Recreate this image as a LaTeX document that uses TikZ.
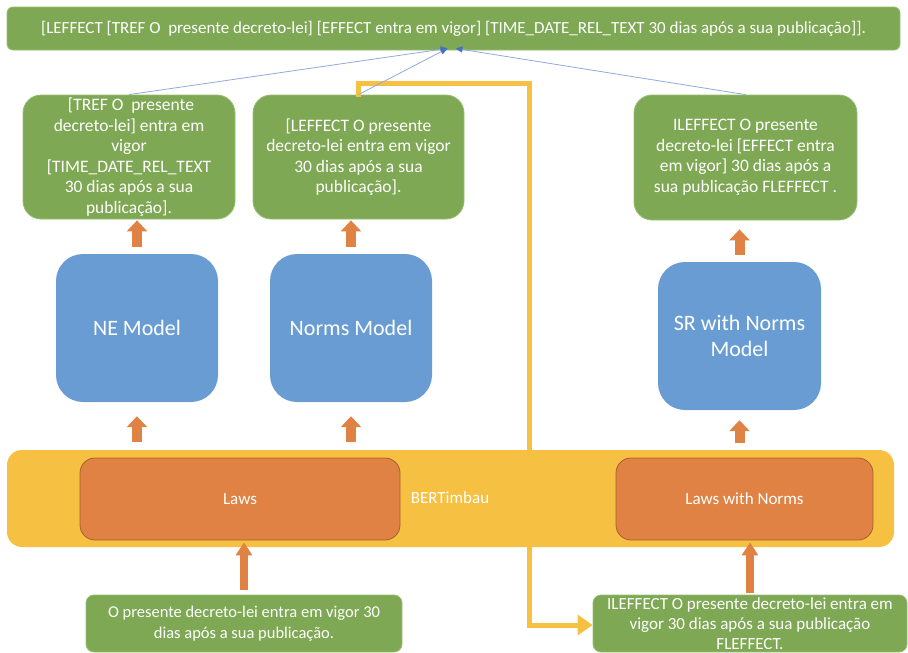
\documentclass[tikz,border=0pt]{standalone}
\usepackage{fontspec}
\setmainfont{Carlito}
\usetikzlibrary{arrows.meta}
\definecolor{grn}{RGB}{126,168,84}
\definecolor{grnb}{RGB}{150,190,115}
\definecolor{blu}{RGB}{104,156,210}
\definecolor{org}{RGB}{223,130,68}
\definecolor{orgb}{RGB}{170,95,45}
\definecolor{yel}{RGB}{246,193,66}
\definecolor{lblu}{RGB}{143,170,220}
\definecolor{dblu}{RGB}{68,114,196}
\tikzset{
  gbox/.style={draw=grnb, line width=0.8pt, fill=grn, text=white, rounded corners=18pt, align=center, inner sep=0pt, font=\fontsize{17.5}{20.5}\selectfont},
  bbox/.style={fill=blu, text=white, rounded corners=27pt, align=center, inner sep=0pt, font=\fontsize{22}{26}\selectfont},
  obox/.style={draw=orgb, line width=0.8pt, fill=org, text=white, rounded corners=15pt, align=center, inner sep=0pt, font=\fontsize{17}{20}\selectfont},
  oarrow/.style={draw=org, line width=10pt, line cap=butt, -{Triangle[width=20pt,length=11pt]}},
  oarrowb/.style={draw=org, line width=8pt, line cap=butt, -{Triangle[width=16pt,length=13pt]}},
  yline/.style={draw=yel, line width=5pt, line cap=butt, line join=miter},
  bline/.style={draw=lblu, line width=0.8pt, -{Triangle[width=6pt,length=7pt,fill=dblu,color=dblu]}},
}
\begin{document}
\begin{tikzpicture}[x=1pt,y=-1pt]
\useasboundingbox (0,0) rectangle (908,653);
% top result
\node[gbox, rounded corners=6pt, minimum width=893pt, minimum height=43pt, font=\fontsize{17}{20}\selectfont] (top) at (453.5,28.5)
  {[LEFFECT [TREF O\ \ presente decreto-lei] [EFFECT entra em vigor] [TIME\_DATE\_REL\_TEXT 30 dias após a sua publicação]].};
% second row outputs
\node[gbox, minimum width=212pt, minimum height=124pt] (g1) at (129,157)
  {\ [TREF O\ \ presente\\decreto-lei] entra em\\vigor\\{}[TIME\_DATE\_REL\_TEXT\\30 dias após a sua\\publicação].};
\node[gbox, minimum width=211pt, minimum height=124pt] (g2) at (358.5,157)
  {[LEFFECT O presente\\decreto-lei entra em vigor\\30 dias após a sua\\publicação].};
\node[gbox, minimum width=223pt, minimum height=125pt] (g3) at (745.5,157.5)
  {ILEFFECT O presente\\decreto-lei [EFFECT entra\\em vigor] 30 dias após a\\sua publicação FLEFFECT .};
% models
\node[bbox, minimum width=162pt, minimum height=148pt] (b1) at (137,328) {NE Model};
\node[bbox, minimum width=162pt, minimum height=148pt] (b2) at (351,328) {Norms Model};
\node[bbox, minimum width=163pt, minimum height=148pt] (b3) at (739.5,336) {SR with Norms\\Model};
% BERTimbau bar
\node[fill=yel, rounded corners=15pt, minimum width=887pt, minimum height=97pt, inner sep=0pt] (bar) at (450.5,498.5) {};
\node[obox, minimum width=320pt, minimum height=82pt] (laws) at (240,499) {Laws};
\node[obox, minimum width=257pt, minimum height=82pt] (lawsn) at (744.5,499) {Laws with Norms};
\node[text=white, font=\fontsize{17}{20}\selectfont, inner sep=0pt] (bert) at (450,498) {BERTimbau};
% inputs
\node[gbox, rounded corners=8pt, minimum width=316pt, minimum height=57pt, font=\fontsize{16.5}{21}\selectfont] (in1) at (244,623.5)
  {O presente decreto-lei entra em vigor 30\\dias após a sua publicação.};
\node[gbox, rounded corners=8pt, minimum width=314pt, minimum height=57pt, font=\fontsize{17}{20}\selectfont] (in2) at (750,623.5)
  {ILEFFECT O presente decreto-lei entra em\\vigor 30 dias após a sua publicação\\FLEFFECT.};
% orange block arrows
\draw[oarrow, shorten <=7pt, shorten >=1pt] (b1.north) -- (b1.north |- g1.south);
\draw[oarrow, shorten <=7pt, shorten >=1pt] (b2.north) -- (b2.north |- g2.south);
\draw[oarrow, shorten <=7pt, shorten >=9pt] (b3.north) -- (b3.north |- g3.south);
\draw[oarrow, shorten <=8pt, shorten >=14pt] (b1.south |- bar.north) -- (b1.south);
\draw[oarrow, shorten <=8pt, shorten >=14pt] (b2.south |- bar.north) -- (b2.south);
\draw[oarrow, shorten <=7pt, shorten >=10pt] (b3.south |- bar.north) -- (b3.south);
\draw[oarrowb, shorten <=5pt, shorten >=2pt] (in1.north) -- (in1.north |- laws.south);
\draw[oarrowb, shorten <=2pt, shorten >=2pt] (in2.north) -- (in2.north |- lawsn.south);
% yellow connectors
\coordinate (yup) at (529,83);
\coordinate (ydn) at (529,625);
\draw[yline] (yup |- bar.north) -- (yup) -- (yup -| g2.north) -- ([yshift=-2pt]g2.north);
\draw[yline, -{Triangle[width=20pt,length=15pt]}] (ydn |- bar.south) -- (ydn) -- (ydn -| in2.west);
% blue connectors
\coordinate (tipL) at ([xshift=-6pt,yshift=2pt]top.south);
\coordinate (tipR) at ([xshift=2pt,yshift=2pt]top.south);
\draw[bline] (g1.north) -- (tipL);
\draw[bline] (g2.north) -- (tipL);
\draw[bline] (g3.north) -- (tipR);
\end{tikzpicture}
\end{document}
